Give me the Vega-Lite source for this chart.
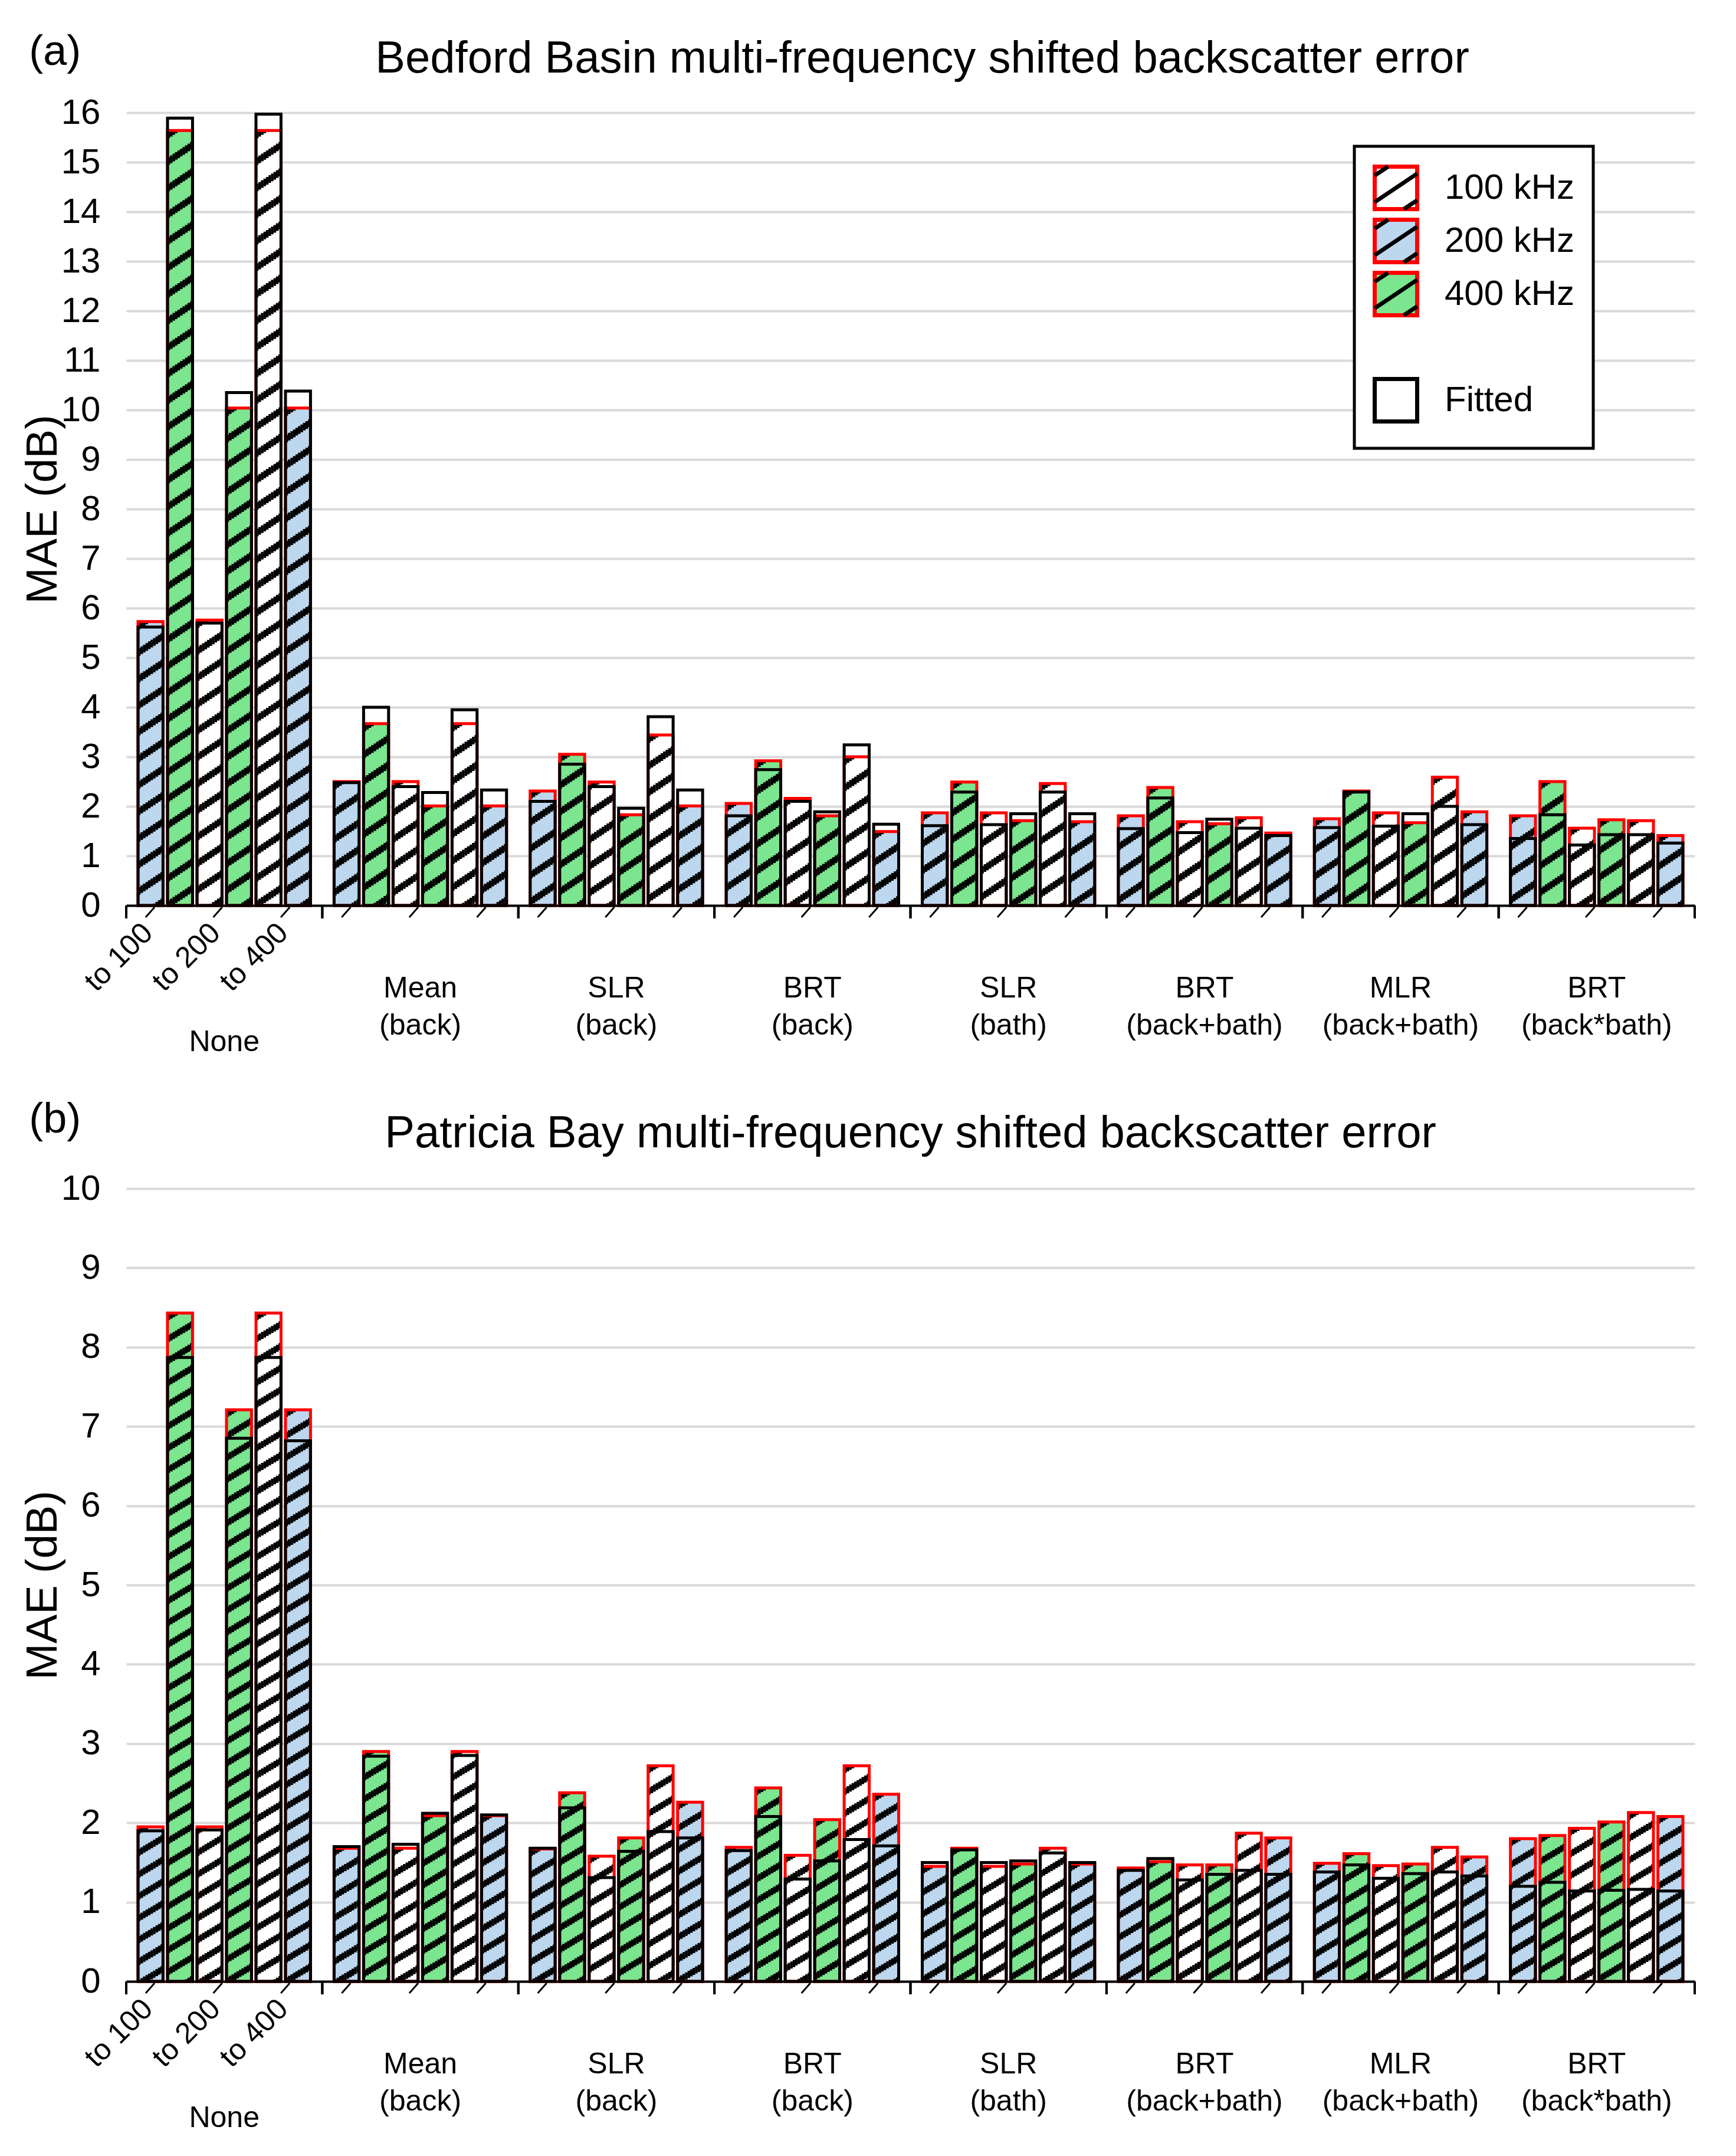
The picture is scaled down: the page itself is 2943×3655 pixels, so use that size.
{
"$schema": "https://vega.github.io/schema/vega-lite/v6.json",
"background": "white",
"padding": {"left": 36, "top": 52, "right": 20, "bottom": 20},
"datasets": {
"a": [
{"group":"None","slot":"1","freq":"200 kHz","to":"to 100","s":5.73,"f":5.62},
{"group":"None","slot":"2","freq":"400 kHz","to":"to 100","s":15.64,"f":15.89},
{"group":"None","slot":"3","freq":"100 kHz","to":"to 200","s":5.76,"f":5.70},
{"group":"None","slot":"4","freq":"400 kHz","to":"to 200","s":10.04,"f":10.35},
{"group":"None","slot":"5","freq":"100 kHz","to":"to 400","s":15.64,"f":15.97},
{"group":"None","slot":"6","freq":"200 kHz","to":"to 400","s":10.04,"f":10.38},
{"group":"Mean (back)","slot":"1","freq":"200 kHz","to":"to 100","s":2.50,"f":2.48},
{"group":"Mean (back)","slot":"2","freq":"400 kHz","to":"to 100","s":3.67,"f":4.00},
{"group":"Mean (back)","slot":"3","freq":"100 kHz","to":"to 200","s":2.50,"f":2.40},
{"group":"Mean (back)","slot":"4","freq":"400 kHz","to":"to 200","s":2.01,"f":2.28},
{"group":"Mean (back)","slot":"5","freq":"100 kHz","to":"to 400","s":3.67,"f":3.95},
{"group":"Mean (back)","slot":"6","freq":"200 kHz","to":"to 400","s":2.01,"f":2.33},
{"group":"SLR (back)","slot":"1","freq":"200 kHz","to":"to 100","s":2.31,"f":2.10},
{"group":"SLR (back)","slot":"2","freq":"400 kHz","to":"to 100","s":3.05,"f":2.85},
{"group":"SLR (back)","slot":"3","freq":"100 kHz","to":"to 200","s":2.49,"f":2.40},
{"group":"SLR (back)","slot":"4","freq":"400 kHz","to":"to 200","s":1.83,"f":1.96},
{"group":"SLR (back)","slot":"5","freq":"100 kHz","to":"to 400","s":3.44,"f":3.81},
{"group":"SLR (back)","slot":"6","freq":"200 kHz","to":"to 400","s":2.01,"f":2.33},
{"group":"BRT (back)","slot":"1","freq":"200 kHz","to":"to 100","s":2.06,"f":1.81},
{"group":"BRT (back)","slot":"2","freq":"400 kHz","to":"to 100","s":2.92,"f":2.74},
{"group":"BRT (back)","slot":"3","freq":"100 kHz","to":"to 200","s":2.16,"f":2.10},
{"group":"BRT (back)","slot":"4","freq":"400 kHz","to":"to 200","s":1.81,"f":1.89},
{"group":"BRT (back)","slot":"5","freq":"100 kHz","to":"to 400","s":3.00,"f":3.24},
{"group":"BRT (back)","slot":"6","freq":"200 kHz","to":"to 400","s":1.49,"f":1.64},
{"group":"SLR (bath)","slot":"1","freq":"200 kHz","to":"to 100","s":1.87,"f":1.61},
{"group":"SLR (bath)","slot":"2","freq":"400 kHz","to":"to 100","s":2.49,"f":2.29},
{"group":"SLR (bath)","slot":"3","freq":"100 kHz","to":"to 200","s":1.87,"f":1.63},
{"group":"SLR (bath)","slot":"4","freq":"400 kHz","to":"to 200","s":1.71,"f":1.85},
{"group":"SLR (bath)","slot":"5","freq":"100 kHz","to":"to 400","s":2.46,"f":2.29},
{"group":"SLR (bath)","slot":"6","freq":"200 kHz","to":"to 400","s":1.69,"f":1.85},
{"group":"BRT (back+bath)","slot":"1","freq":"200 kHz","to":"to 100","s":1.81,"f":1.55},
{"group":"BRT (back+bath)","slot":"2","freq":"400 kHz","to":"to 100","s":2.38,"f":2.17},
{"group":"BRT (back+bath)","slot":"3","freq":"100 kHz","to":"to 200","s":1.69,"f":1.47},
{"group":"BRT (back+bath)","slot":"4","freq":"400 kHz","to":"to 200","s":1.65,"f":1.74},
{"group":"BRT (back+bath)","slot":"5","freq":"100 kHz","to":"to 400","s":1.77,"f":1.56},
{"group":"BRT (back+bath)","slot":"6","freq":"200 kHz","to":"to 400","s":1.46,"f":1.41},
{"group":"MLR (back+bath)","slot":"1","freq":"200 kHz","to":"to 100","s":1.75,"f":1.57},
{"group":"MLR (back+bath)","slot":"2","freq":"400 kHz","to":"to 100","s":2.31,"f":2.29},
{"group":"MLR (back+bath)","slot":"3","freq":"100 kHz","to":"to 200","s":1.87,"f":1.60},
{"group":"MLR (back+bath)","slot":"4","freq":"400 kHz","to":"to 200","s":1.67,"f":1.85},
{"group":"MLR (back+bath)","slot":"5","freq":"100 kHz","to":"to 400","s":2.59,"f":2.00},
{"group":"MLR (back+bath)","slot":"6","freq":"200 kHz","to":"to 400","s":1.89,"f":1.63},
{"group":"BRT (back*bath)","slot":"1","freq":"200 kHz","to":"to 100","s":1.81,"f":1.35},
{"group":"BRT (back*bath)","slot":"2","freq":"400 kHz","to":"to 100","s":2.50,"f":1.83},
{"group":"BRT (back*bath)","slot":"3","freq":"100 kHz","to":"to 200","s":1.56,"f":1.22},
{"group":"BRT (back*bath)","slot":"4","freq":"400 kHz","to":"to 200","s":1.73,"f":1.43},
{"group":"BRT (back*bath)","slot":"5","freq":"100 kHz","to":"to 400","s":1.71,"f":1.43},
{"group":"BRT (back*bath)","slot":"6","freq":"200 kHz","to":"to 400","s":1.41,"f":1.26}
],
"b": [
{"group":"None","slot":"1","freq":"200 kHz","to":"to 100","s":1.95,"f":1.90},
{"group":"None","slot":"2","freq":"400 kHz","to":"to 100","s":8.43,"f":7.87},
{"group":"None","slot":"3","freq":"100 kHz","to":"to 200","s":1.95,"f":1.91},
{"group":"None","slot":"4","freq":"400 kHz","to":"to 200","s":7.21,"f":6.85},
{"group":"None","slot":"5","freq":"100 kHz","to":"to 400","s":8.43,"f":7.87},
{"group":"None","slot":"6","freq":"200 kHz","to":"to 400","s":7.21,"f":6.82},
{"group":"Mean (back)","slot":"1","freq":"200 kHz","to":"to 100","s":1.68,"f":1.70},
{"group":"Mean (back)","slot":"2","freq":"400 kHz","to":"to 100","s":2.90,"f":2.84},
{"group":"Mean (back)","slot":"3","freq":"100 kHz","to":"to 200","s":1.68,"f":1.73},
{"group":"Mean (back)","slot":"4","freq":"400 kHz","to":"to 200","s":2.09,"f":2.12},
{"group":"Mean (back)","slot":"5","freq":"100 kHz","to":"to 400","s":2.90,"f":2.85},
{"group":"Mean (back)","slot":"6","freq":"200 kHz","to":"to 400","s":2.09,"f":2.10},
{"group":"SLR (back)","slot":"1","freq":"200 kHz","to":"to 100","s":1.67,"f":1.68},
{"group":"SLR (back)","slot":"2","freq":"400 kHz","to":"to 100","s":2.38,"f":2.19},
{"group":"SLR (back)","slot":"3","freq":"100 kHz","to":"to 200","s":1.58,"f":1.31},
{"group":"SLR (back)","slot":"4","freq":"400 kHz","to":"to 200","s":1.81,"f":1.64},
{"group":"SLR (back)","slot":"5","freq":"100 kHz","to":"to 400","s":2.72,"f":1.89},
{"group":"SLR (back)","slot":"6","freq":"200 kHz","to":"to 400","s":2.26,"f":1.81},
{"group":"BRT (back)","slot":"1","freq":"200 kHz","to":"to 100","s":1.69,"f":1.65},
{"group":"BRT (back)","slot":"2","freq":"400 kHz","to":"to 100","s":2.44,"f":2.08},
{"group":"BRT (back)","slot":"3","freq":"100 kHz","to":"to 200","s":1.59,"f":1.29},
{"group":"BRT (back)","slot":"4","freq":"400 kHz","to":"to 200","s":2.04,"f":1.52},
{"group":"BRT (back)","slot":"5","freq":"100 kHz","to":"to 400","s":2.72,"f":1.79},
{"group":"BRT (back)","slot":"6","freq":"200 kHz","to":"to 400","s":2.36,"f":1.71},
{"group":"SLR (bath)","slot":"1","freq":"200 kHz","to":"to 100","s":1.45,"f":1.50},
{"group":"SLR (bath)","slot":"2","freq":"400 kHz","to":"to 100","s":1.68,"f":1.66},
{"group":"SLR (bath)","slot":"3","freq":"100 kHz","to":"to 200","s":1.45,"f":1.50},
{"group":"SLR (bath)","slot":"4","freq":"400 kHz","to":"to 200","s":1.48,"f":1.52},
{"group":"SLR (bath)","slot":"5","freq":"100 kHz","to":"to 400","s":1.68,"f":1.62},
{"group":"SLR (bath)","slot":"6","freq":"200 kHz","to":"to 400","s":1.48,"f":1.50},
{"group":"BRT (back+bath)","slot":"1","freq":"200 kHz","to":"to 100","s":1.43,"f":1.40},
{"group":"BRT (back+bath)","slot":"2","freq":"400 kHz","to":"to 100","s":1.51,"f":1.55},
{"group":"BRT (back+bath)","slot":"3","freq":"100 kHz","to":"to 200","s":1.47,"f":1.28},
{"group":"BRT (back+bath)","slot":"4","freq":"400 kHz","to":"to 200","s":1.47,"f":1.35},
{"group":"BRT (back+bath)","slot":"5","freq":"100 kHz","to":"to 400","s":1.87,"f":1.40},
{"group":"BRT (back+bath)","slot":"6","freq":"200 kHz","to":"to 400","s":1.81,"f":1.35},
{"group":"MLR (back+bath)","slot":"1","freq":"200 kHz","to":"to 100","s":1.49,"f":1.38},
{"group":"MLR (back+bath)","slot":"2","freq":"400 kHz","to":"to 100","s":1.61,"f":1.47},
{"group":"MLR (back+bath)","slot":"3","freq":"100 kHz","to":"to 200","s":1.46,"f":1.30},
{"group":"MLR (back+bath)","slot":"4","freq":"400 kHz","to":"to 200","s":1.48,"f":1.36},
{"group":"MLR (back+bath)","slot":"5","freq":"100 kHz","to":"to 400","s":1.69,"f":1.38},
{"group":"MLR (back+bath)","slot":"6","freq":"200 kHz","to":"to 400","s":1.57,"f":1.33},
{"group":"BRT (back*bath)","slot":"1","freq":"200 kHz","to":"to 100","s":1.80,"f":1.20},
{"group":"BRT (back*bath)","slot":"2","freq":"400 kHz","to":"to 100","s":1.84,"f":1.25},
{"group":"BRT (back*bath)","slot":"3","freq":"100 kHz","to":"to 200","s":1.93,"f":1.14},
{"group":"BRT (back*bath)","slot":"4","freq":"400 kHz","to":"to 200","s":2.01,"f":1.15},
{"group":"BRT (back*bath)","slot":"5","freq":"100 kHz","to":"to 400","s":2.13,"f":1.16},
{"group":"BRT (back*bath)","slot":"6","freq":"200 kHz","to":"to 400","s":2.08,"f":1.14}
]
},
"spacing": 70,
"vconcat": [
{
"width": 2659, "height": 1344,
"data": {"name": "a"},
"encoding": {
 "x": {"field":"group","type":"nominal","title":null,"scale":{"domain":["None","Mean (back)","SLR (back)","BRT (back)","SLR (bath)","BRT (back+bath)","MLR (back+bath)","BRT (back*bath)"],"paddingInner":0,"paddingOuter":0},"axis":{"labelExpr":"datum.value === 'None' ? '' : split(datum.value, ' ')"}},
 "y": {"field":"s","type":"quantitative","title":"MAE (dB)","stack":null,"scale":{"domain":[0,16]},"axis":{"values":[0,1,2,3,4,5,6,7,8,9,10,11,12,13,14,15,16]}},
 "y2": {"datum": 0}
},
"layer": [
 {"mark":{"type":"bar","strokeWidth":0},"encoding":{"xOffset":{"field":"slot","type":"nominal","scale":{"domain":["1","2","3","4","5","6"],"paddingInner":0.152,"paddingOuter":0.4}},
   "fill":{"field":"freq","type":"nominal","scale":{"domain":["100 kHz","200 kHz","400 kHz"," ","Fitted"],"range":["#FFFFFF","#BDD7EE","#7BE58F","#FFFFFF","#FFFFFF"]},
     "legend":{"orient":"none","legendX":2082,"legendY":57,"zindex":1,"title":null,"labelFontSize":60,"labelColor":"#000000","labelLimit":0,"symbolSize":5184,"symbolType":"square","symbolStrokeWidth":7,"rowPadding":-13,"labelOffset":43,"padding":31,"strokeColor":"#000000","fillColor":"#FFFFFF",
       "encode":{"legend":{"update":{"strokeWidth":{"value":5}}},
         "symbols":{"update":{
           "stroke":{"signal":"datum.value === 'Fitted' ? '#000000' : datum.value === ' ' ? 'transparent' : '#FF0000'"}
         }}}}}}},
 {"mark":{"type":"point","opacity":0,"filled":false},"encoding":{
   "shape":{"field":"freq","type":"nominal","scale":{"domain":["100 kHz","200 kHz","400 kHz","  ","Fitted"],"range":["M -1 0.67 L 1 -0.67 M 0.373 1 L 1 0.58 M -1 -0.58 L -0.373 -1","M -1 0.67 L 1 -0.67 M 0.373 1 L 1 0.58 M -1 -0.58 L -0.373 -1","M -1 0.67 L 1 -0.67 M 0.373 1 L 1 0.58 M -1 -0.58 L -0.373 -1","M 0 0","M 0 0"]},
     "legend":{"orient":"none","legendX":2082,"legendY":57,"zindex":2,"title":null,"labelFontSize":60,"labelColor":"transparent","labelExpr":"' '","labelLimit":0,"symbolSize":5184,"symbolStrokeWidth":7,"symbolStrokeColor":"#000000","symbolFillColor":"transparent","symbolOpacity":1,"rowPadding":-13,"labelOffset":43,"padding":31,"strokeColor":"transparent","fillColor":"transparent"}}}},
 {"mark":{"type":"rule","stroke":"#000000","strokeWidth":4.4,"strokeDash":[13,32],"strokeDashOffset":0},"encoding":{"xOffset":{"field":"slot","type":"nominal","scale":{"domain":["1","2","3","4","5","6"],"paddingInner":0.152,"paddingOuter":0.4,"range":[-19.08,313.295]}}}},
 {"mark":{"type":"rule","stroke":"#000000","strokeWidth":4.4,"strokeDash":[13,32],"strokeDashOffset":2.83},"encoding":{"xOffset":{"field":"slot","type":"nominal","scale":{"domain":["1","2","3","4","5","6"],"paddingInner":0.152,"paddingOuter":0.4,"range":[-14.84,317.535]}}}},
 {"mark":{"type":"rule","stroke":"#000000","strokeWidth":4.4,"strokeDash":[13,32],"strokeDashOffset":5.66},"encoding":{"xOffset":{"field":"slot","type":"nominal","scale":{"domain":["1","2","3","4","5","6"],"paddingInner":0.152,"paddingOuter":0.4,"range":[-10.6,321.775]}}}},
 {"mark":{"type":"rule","stroke":"#000000","strokeWidth":4.4,"strokeDash":[13,32],"strokeDashOffset":8.49},"encoding":{"xOffset":{"field":"slot","type":"nominal","scale":{"domain":["1","2","3","4","5","6"],"paddingInner":0.152,"paddingOuter":0.4,"range":[-6.36,326.015]}}}},
 {"mark":{"type":"rule","stroke":"#000000","strokeWidth":4.4,"strokeDash":[13,32],"strokeDashOffset":11.32},"encoding":{"xOffset":{"field":"slot","type":"nominal","scale":{"domain":["1","2","3","4","5","6"],"paddingInner":0.152,"paddingOuter":0.4,"range":[-2.12,330.255]}}}},
 {"mark":{"type":"rule","stroke":"#000000","strokeWidth":4.4,"strokeDash":[13,32],"strokeDashOffset":14.15},"encoding":{"xOffset":{"field":"slot","type":"nominal","scale":{"domain":["1","2","3","4","5","6"],"paddingInner":0.152,"paddingOuter":0.4,"range":[2.12,334.495]}}}},
 {"mark":{"type":"rule","stroke":"#000000","strokeWidth":4.4,"strokeDash":[13,32],"strokeDashOffset":16.98},"encoding":{"xOffset":{"field":"slot","type":"nominal","scale":{"domain":["1","2","3","4","5","6"],"paddingInner":0.152,"paddingOuter":0.4,"range":[6.36,338.735]}}}},
 {"mark":{"type":"rule","stroke":"#000000","strokeWidth":4.4,"strokeDash":[13,32],"strokeDashOffset":19.81},"encoding":{"xOffset":{"field":"slot","type":"nominal","scale":{"domain":["1","2","3","4","5","6"],"paddingInner":0.152,"paddingOuter":0.4,"range":[10.6,342.975]}}}},
 {"mark":{"type":"rule","stroke":"#000000","strokeWidth":4.4,"strokeDash":[13,32],"strokeDashOffset":22.64},"encoding":{"xOffset":{"field":"slot","type":"nominal","scale":{"domain":["1","2","3","4","5","6"],"paddingInner":0.152,"paddingOuter":0.4,"range":[14.84,347.215]}}}},
 {"mark":{"type":"rule","stroke":"#000000","strokeWidth":4.4,"strokeDash":[13,32],"strokeDashOffset":25.47},"encoding":{"xOffset":{"field":"slot","type":"nominal","scale":{"domain":["1","2","3","4","5","6"],"paddingInner":0.152,"paddingOuter":0.4,"range":[19.08,351.455]}}}},
 {"mark":{"type":"bar","fillOpacity":0,"stroke":"#FF0000","strokeWidth":5},"encoding":{"xOffset":{"field":"slot","type":"nominal","scale":{"domain":["1","2","3","4","5","6"],"paddingInner":0.152,"paddingOuter":0.4}}}},
 {"mark":{"type":"bar","fillOpacity":0,"stroke":"#000000","strokeWidth":5},"encoding":{"xOffset":{"field":"slot","type":"nominal","scale":{"domain":["1","2","3","4","5","6"],"paddingInner":0.152,"paddingOuter":0.4}},
   "y":{"field":"f","type":"quantitative","title":"MAE (dB)","stack":null,"scale":{"domain":[0,16]}}}},
 {"transform":[{"filter":"datum.slot == '1'"}],"mark":{"type":"rule","stroke":"#000000","strokeWidth":4,"y2Offset":22},"encoding":{"x":{"field":"group","type":"nominal","title":null,"bandPosition":0,"scale":{"domain":["None","Mean (back)","SLR (back)","BRT (back)","SLR (bath)","BRT (back+bath)","MLR (back+bath)","BRT (back*bath)"],"paddingInner":0,"paddingOuter":0}},"y":{"datum":0},"y2":{"datum":0}}},
 {"transform":[{"filter":"datum.slot == '1'"}],"mark":{"type":"rule","stroke":"#000000","strokeWidth":4,"y2Offset":22},"encoding":{"x":{"field":"group","type":"nominal","title":null,"bandPosition":1,"scale":{"domain":["None","Mean (back)","SLR (back)","BRT (back)","SLR (bath)","BRT (back+bath)","MLR (back+bath)","BRT (back*bath)"],"paddingInner":0,"paddingOuter":0}},"y":{"datum":0},"y2":{"datum":0}}},
 {"transform":[{"filter":"datum.slot == '1' || datum.slot == '3' || datum.slot == '5'"}],"mark":{"type":"point","shape":"M 2.5 0.3 L 1.0 2.0","size":400,"filled":false,"stroke":"#000000","strokeWidth":3,"opacity":1},"encoding":{"xOffset":{"field":"slot","type":"nominal","scale":{"domain":["1","2","3","4","5","6"],"paddingInner":0.152,"paddingOuter":0.4}},"y":{"datum":0}}},
 {"transform":[{"filter":"datum.group == 'None' && (datum.slot == '1' || datum.slot == '3' || datum.slot == '5')"}],"mark":{"type":"text","angle":315,"align":"right","baseline":"middle","fontSize":50,"yOffset":39,"dx":10,"dy":10,"color":"#000000"},"encoding":{"xOffset":{"field":"slot","type":"nominal","scale":{"domain":["1","2","3","4","5","6"],"paddingInner":0.152,"paddingOuter":0.4}},"y":{"datum":0},"text":{"field":"to"}}},
 {"transform":[{"filter":"datum.group == 'None' && datum.slot == '1'"}],"mark":{"type":"text","text":"None","fontSize":50,"yOffset":232,"align":"center","baseline":"middle","color":"#000000"},"encoding":{"y":{"datum":0}}},
 {"transform":[{"filter":"datum.group == 'None' && datum.slot == '1'"}],"mark":{"type":"text","text":"(a)","fontSize":72,"dx":-287,"dy":-103,"align":"center","baseline":"middle","color":"#000000"},"encoding":{"y":{"datum":16}}},
 {"transform":[{"filter":"datum.group == 'SLR (bath)' && datum.slot == '1'"}],"mark":{"type":"text","text":"Bedford Basin multi-frequency shifted backscatter error","fontSize":76,"dx":20,"dy":-91,"align":"center","baseline":"middle","color":"#000000"},"encoding":{"x":{"field":"group","type":"nominal","title":null,"bandPosition":0,"scale":{"domain":["None","Mean (back)","SLR (back)","BRT (back)","SLR (bath)","BRT (back+bath)","MLR (back+bath)","BRT (back*bath)"],"paddingInner":0,"paddingOuter":0}},"y":{"datum":16}}}
],
"resolve": {"scale": {"xOffset": "independent"}}
},
{
"width": 2659, "height": 1344,
"data": {"name": "b"},
"encoding": {
 "x": {"field":"group","type":"nominal","title":null,"scale":{"domain":["None","Mean (back)","SLR (back)","BRT (back)","SLR (bath)","BRT (back+bath)","MLR (back+bath)","BRT (back*bath)"],"paddingInner":0,"paddingOuter":0},"axis":{"labelExpr":"datum.value === 'None' ? '' : split(datum.value, ' ')"}},
 "y": {"field":"s","type":"quantitative","title":"MAE (dB)","stack":null,"scale":{"domain":[0,10]},"axis":{"values":[0,1,2,3,4,5,6,7,8,9,10]}},
 "y2": {"datum": 0}
},
"layer": [
 {"mark":{"type":"bar","strokeWidth":0},"encoding":{"xOffset":{"field":"slot","type":"nominal","scale":{"domain":["1","2","3","4","5","6"],"paddingInner":0.152,"paddingOuter":0.4}},
   "fill":{"field":"freq","type":"nominal","scale":{"domain":["100 kHz","200 kHz","400 kHz"],"range":["#FFFFFF","#BDD7EE","#7BE58F"]},"legend":null}}},
 {"mark":{"type":"rule","stroke":"#000000","strokeWidth":4.4,"strokeDash":[12,25],"strokeDashOffset":0},"encoding":{"xOffset":{"field":"slot","type":"nominal","scale":{"domain":["1","2","3","4","5","6"],"paddingInner":0.152,"paddingOuter":0.4,"range":[-19.08,313.295]}}}},
 {"mark":{"type":"rule","stroke":"#000000","strokeWidth":4.4,"strokeDash":[12,25],"strokeDashOffset":2.54},"encoding":{"xOffset":{"field":"slot","type":"nominal","scale":{"domain":["1","2","3","4","5","6"],"paddingInner":0.152,"paddingOuter":0.4,"range":[-14.84,317.535]}}}},
 {"mark":{"type":"rule","stroke":"#000000","strokeWidth":4.4,"strokeDash":[12,25],"strokeDashOffset":5.09},"encoding":{"xOffset":{"field":"slot","type":"nominal","scale":{"domain":["1","2","3","4","5","6"],"paddingInner":0.152,"paddingOuter":0.4,"range":[-10.6,321.775]}}}},
 {"mark":{"type":"rule","stroke":"#000000","strokeWidth":4.4,"strokeDash":[12,25],"strokeDashOffset":7.63},"encoding":{"xOffset":{"field":"slot","type":"nominal","scale":{"domain":["1","2","3","4","5","6"],"paddingInner":0.152,"paddingOuter":0.4,"range":[-6.36,326.015]}}}},
 {"mark":{"type":"rule","stroke":"#000000","strokeWidth":4.4,"strokeDash":[12,25],"strokeDashOffset":10.18},"encoding":{"xOffset":{"field":"slot","type":"nominal","scale":{"domain":["1","2","3","4","5","6"],"paddingInner":0.152,"paddingOuter":0.4,"range":[-2.12,330.255]}}}},
 {"mark":{"type":"rule","stroke":"#000000","strokeWidth":4.4,"strokeDash":[12,25],"strokeDashOffset":12.72},"encoding":{"xOffset":{"field":"slot","type":"nominal","scale":{"domain":["1","2","3","4","5","6"],"paddingInner":0.152,"paddingOuter":0.4,"range":[2.12,334.495]}}}},
 {"mark":{"type":"rule","stroke":"#000000","strokeWidth":4.4,"strokeDash":[12,25],"strokeDashOffset":15.26},"encoding":{"xOffset":{"field":"slot","type":"nominal","scale":{"domain":["1","2","3","4","5","6"],"paddingInner":0.152,"paddingOuter":0.4,"range":[6.36,338.735]}}}},
 {"mark":{"type":"rule","stroke":"#000000","strokeWidth":4.4,"strokeDash":[12,25],"strokeDashOffset":17.81},"encoding":{"xOffset":{"field":"slot","type":"nominal","scale":{"domain":["1","2","3","4","5","6"],"paddingInner":0.152,"paddingOuter":0.4,"range":[10.6,342.975]}}}},
 {"mark":{"type":"rule","stroke":"#000000","strokeWidth":4.4,"strokeDash":[12,25],"strokeDashOffset":20.35},"encoding":{"xOffset":{"field":"slot","type":"nominal","scale":{"domain":["1","2","3","4","5","6"],"paddingInner":0.152,"paddingOuter":0.4,"range":[14.84,347.215]}}}},
 {"mark":{"type":"rule","stroke":"#000000","strokeWidth":4.4,"strokeDash":[12,25],"strokeDashOffset":22.9},"encoding":{"xOffset":{"field":"slot","type":"nominal","scale":{"domain":["1","2","3","4","5","6"],"paddingInner":0.152,"paddingOuter":0.4,"range":[19.08,351.455]}}}},
 {"mark":{"type":"bar","fillOpacity":0,"stroke":"#FF0000","strokeWidth":5},"encoding":{"xOffset":{"field":"slot","type":"nominal","scale":{"domain":["1","2","3","4","5","6"],"paddingInner":0.152,"paddingOuter":0.4}}}},
 {"mark":{"type":"bar","fillOpacity":0,"stroke":"#000000","strokeWidth":5},"encoding":{"xOffset":{"field":"slot","type":"nominal","scale":{"domain":["1","2","3","4","5","6"],"paddingInner":0.152,"paddingOuter":0.4}},
   "y":{"field":"f","type":"quantitative","title":"MAE (dB)","stack":null,"scale":{"domain":[0,10]}}}},
 {"transform":[{"filter":"datum.slot == '1'"}],"mark":{"type":"rule","stroke":"#000000","strokeWidth":4,"y2Offset":22},"encoding":{"x":{"field":"group","type":"nominal","title":null,"bandPosition":0,"scale":{"domain":["None","Mean (back)","SLR (back)","BRT (back)","SLR (bath)","BRT (back+bath)","MLR (back+bath)","BRT (back*bath)"],"paddingInner":0,"paddingOuter":0}},"y":{"datum":0},"y2":{"datum":0}}},
 {"transform":[{"filter":"datum.slot == '1'"}],"mark":{"type":"rule","stroke":"#000000","strokeWidth":4,"y2Offset":22},"encoding":{"x":{"field":"group","type":"nominal","title":null,"bandPosition":1,"scale":{"domain":["None","Mean (back)","SLR (back)","BRT (back)","SLR (bath)","BRT (back+bath)","MLR (back+bath)","BRT (back*bath)"],"paddingInner":0,"paddingOuter":0}},"y":{"datum":0},"y2":{"datum":0}}},
 {"transform":[{"filter":"datum.slot == '1' || datum.slot == '3' || datum.slot == '5'"}],"mark":{"type":"point","shape":"M 2.5 0.3 L 1.0 2.0","size":400,"filled":false,"stroke":"#000000","strokeWidth":3,"opacity":1},"encoding":{"xOffset":{"field":"slot","type":"nominal","scale":{"domain":["1","2","3","4","5","6"],"paddingInner":0.152,"paddingOuter":0.4}},"y":{"datum":0}}},
 {"transform":[{"filter":"datum.group == 'None' && (datum.slot == '1' || datum.slot == '3' || datum.slot == '5')"}],"mark":{"type":"text","angle":315,"align":"right","baseline":"middle","fontSize":50,"yOffset":39,"dx":10,"dy":10,"color":"#000000"},"encoding":{"xOffset":{"field":"slot","type":"nominal","scale":{"domain":["1","2","3","4","5","6"],"paddingInner":0.152,"paddingOuter":0.4}},"y":{"datum":0},"text":{"field":"to"}}},
 {"transform":[{"filter":"datum.group == 'None' && datum.slot == '1'"}],"mark":{"type":"text","text":"None","fontSize":50,"yOffset":232,"align":"center","baseline":"middle","color":"#000000"},"encoding":{"y":{"datum":0}}},
 {"transform":[{"filter":"datum.group == 'None' && datum.slot == '1'"}],"mark":{"type":"text","text":"(b)","fontSize":72,"dx":-287,"dy":-117,"align":"center","baseline":"middle","color":"#000000"},"encoding":{"y":{"datum":10}}},
 {"transform":[{"filter":"datum.group == 'SLR (bath)' && datum.slot == '1'"}],"mark":{"type":"text","text":"Patricia Bay multi-frequency shifted backscatter error","fontSize":76,"dy":-93,"align":"center","baseline":"middle","color":"#000000"},"encoding":{"x":{"field":"group","type":"nominal","title":null,"bandPosition":0,"scale":{"domain":["None","Mean (back)","SLR (back)","BRT (back)","SLR (bath)","BRT (back+bath)","MLR (back+bath)","BRT (back*bath)"],"paddingInner":0,"paddingOuter":0}},"y":{"datum":10}}}
],
"resolve": {"scale": {"xOffset": "independent"}}
}
],
"resolve": {"scale": {"fill": "independent", "shape": "independent"}, "legend": {"fill": "independent", "shape": "independent"}},
"config": {
 "font": "Liberation Sans",
 "view": {"stroke": null},
 "axisY": {"gridColor": "#D9D9D9", "gridWidth": 4, "domain": false, "ticks": false, "labelFontSize": 60, "labelColor": "#000000", "labelPadding": 44, "titleFontSize": 74, "titleFontWeight": "normal", "titleColor": "#000000", "titlePadding": -8},
 "axisX": {"grid": false, "ticks": false, "tickSize": 0, "domainColor": "#000000", "domainWidth": 4, "labelFontSize": 50, "labelColor": "#000000", "labelAngle": 0, "labelPadding": 115, "labelLineHeight": 63, "labelLimit": 0, "labelOverlap": false}
}
}
